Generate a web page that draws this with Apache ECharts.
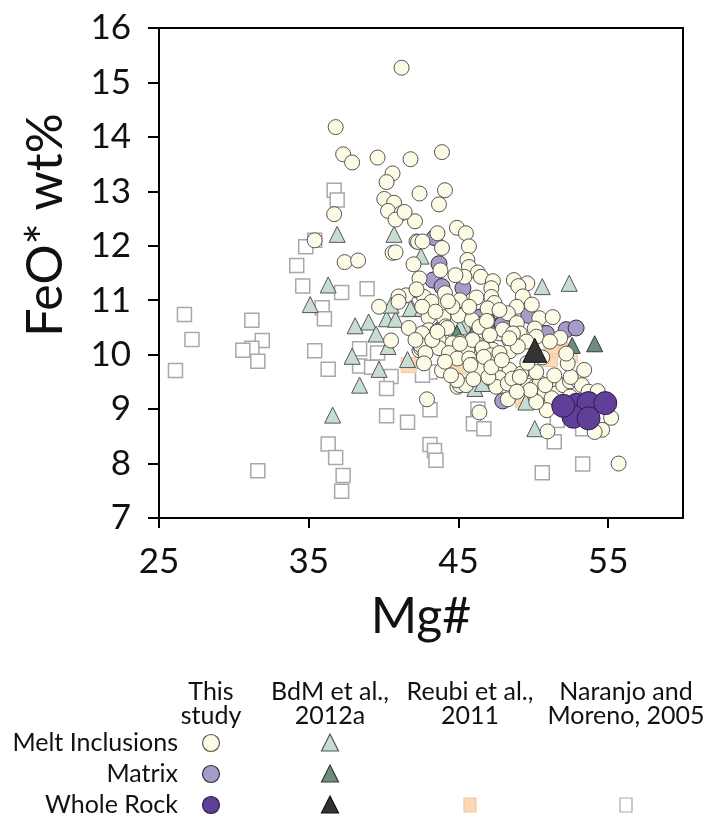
<!DOCTYPE html>
<html>
<head>
<meta charset="utf-8">
<script src="https://cdn.jsdelivr.net/npm/echarts@6/dist/echarts.min.js"></script>
<style>
  html, body { margin: 0; padding: 0; background: #fff; }
  #chart { width: 705px; height: 821px; }
</style>
</head>
<body>
<div id="chart"></div>
<script>
// Mg# vs FeO* (wt%) for Villarrica-type basaltic andesites

// This study — melt inclusions [Mg#, FeO*]
const melt = [
  [41.2,15.27],[36.8,14.18],[37.3,13.68],[37.9,13.53],[39.6,13.62],[41.8,13.59],[40.6,13.33],
  [40.2,13.17],[42.4,12.96],[40.05,12.86],[40.7,12.79],[40.3,12.64],[41.2,12.6],[40.8,12.48],
  [42.1,12.45],[36.7,12.58],[35.4,12.10],[42.2,12.08],[40.6,11.87],[40.8,11.88],[37.4,11.70],
  [38.3,11.73],[42.0,11.66],[43.9,13.72],[44.1,13.02],[43.7,12.76],[41.4,12.62],
  [43.6,12.23],[44.9,12.33],[45.5,12.23],[42.3,12.07],[42.6,12.08],[43.9,11.96],[45.7,11.99],
  [45.6,11.74],[43.8,11.55],[45.7,11.61],[46.3,11.51],[46.5,11.43],[45.4,11.43],[44.8,11.46],
  [42.4,11.40],[42.2,11.18],[44.1,11.13],[47.3,11.35],[47.2,11.22],[48.7,11.37],[49.6,11.31],
  [49.0,11.26],[49.3,11.07],[46.2,11.05],[47.2,11.06],[47.4,10.95],[45.1,11.0],[41.2,11.06],
  [42.7,11.06],[43.2,10.97],[48.9,10.88],[48.3,10.76],[43.0,10.69],[44.0,10.69],[45.0,10.72],
  [45.9,10.64],[48.9,10.58],[50.4,10.67],[51.3,10.69],[51.8,10.31],[50.1,10.48],[50.2,10.33],
  [46.4,10.51],[47.1,10.36],[48.4,10.27],[43.5,10.42],[43.0,10.45],[42.4,10.08],[44.1,10.23],
  [45.1,10.23],[46.7,10.02],[41.5,11.09],[39.7,10.88],[41.0,11.07],[41.0,10.97],[42.2,11.2],
  [40.5,10.26],[42.5,10.12],
  [42.58,10.88],[43.47,10.79],[44.6,10.88],[45.72,10.88],[46.95,10.85],[47.74,10.82],
  [44.15,10.52],[46.17,10.21],[47.74,10.39],[49.09,10.39],[49.54,10.24],[51.11,10.24],
  [42.58,10.39],[41.68,10.49],[45.6,10.09],[47.29,10.09],[48.41,10.06],
  [43.59,10.43],[44.26,10.49],[43.70,10.27],[44.60,10.21],[45.94,10.27],[46.62,10.12],
  [47.96,10.46],[48.64,10.39],[48.97,10.15],[43.70,10.12],[44.37,10.03],[44.93,9.93],
  [45.72,9.93],[45.94,9.81],[46.39,9.72],[47.18,9.99],[47.74,10.03],[47.96,9.78],[48.41,9.72],
  [48.64,9.54],[48.97,9.57],[49.87,9.69],[50.10,9.41],[50.43,9.48],[50.77,9.32],[51.11,9.44],
  [51.56,9.29],[51.22,9.20],[52.0,9.44],[52.45,9.51],[52.9,9.54],[53.24,9.44],[53.69,9.32],
  [52.45,9.23],[44.93,9.41],[47.07,9.57],[47.74,9.57],[47.52,9.41],[48.30,9.47],[42.46,10.18],
  [42.80,10.03],[43.25,10.27],[42.13,10.27],
  [42.9,9.18],[46.4,8.94],[48.3,9.18],[55.7,8.00],[55.2,8.84],[54.6,8.62],[54.1,8.58],
  [54.3,9.33],[50.95,8.59],[50.9,8.98],[50.2,9.13],[52.5,9.59],[52.3,9.84],[52.2,10.02],
  [50.8,9.44],[49.8,9.35],[49.2,9.65],[50.2,9.68],[48.6,9.56],[42.7,9.84],[43.9,9.71],
  [44.1,9.87],[45.1,9.44],[45.5,9.44],[44.9,9.53],[45.8,9.81],[46.7,9.96],[47.0,9.59],
  [47.2,9.77],[47.9,9.90],[48.4,10.30],[49.1,9.59],[43.6,10.42],[45.1,10.2],[47.1,10.36],
  [44.5,9.62],[46.0,9.55],[49.6,9.85],[50.6,9.95],[51.4,9.62],[53.4,9.72],[48.9,9.32],
  [46.9,10.62],[49.9,10.92],[44.3,10.98]
];

// This study — matrix glass
const matrix = [
  [43.4,12.15],[43.7,11.67],[43.3,11.37],[43.9,11.25],[45.3,11.22],[46.44,10.69],[47.9,10.57],
  [48.1,10.56],[49.7,10.72],[52.2,10.46],[52.86,10.49],[50.8,10.39],[47.96,9.15],[50.88,10.39],
  [43.92,10.49],[46.44,10.55],[47.92,10.55]
];

// This study — whole rock
const wholeRock = [
  [52.45,9.01],[52.9,9.08],[53.69,9.11],[54.81,9.11],[52.68,8.86],[53.69,8.83],[52.0,9.06]
];

// BdM et al., 2012a
const bdmMelt = [
  [36.9,12.21],[40.7,12.21],[36.3,11.28],[35.1,10.92],[38.1,10.53],[39.0,10.6],[39.5,10.38],
  [40.2,10.66],[40.8,10.65],[41.9,10.85],[40.5,10.91],[40.3,10.15],[37.9,9.97],[39.7,9.73],
  [41.6,9.91],[38.4,9.44],[36.6,8.89],[42.5,11.81],[41.8,10.85],[42.6,10.85],[50.6,11.25],
  [52.4,11.31],[45.4,10.54],[46.1,9.38],[46.6,9.47],[49.5,9.13],[50.1,8.64],[45.1,10.51]
];
const bdmMatrix = [
  [52.6,10.17],[54.1,10.20],[44.9,10.39],[45.9,10.36],[47.3,10.60]
];
const bdmWhole = [
  [50.1,10.08]
];

// Reubi et al., 2011 — whole rock
const reubi = [
  [42.46,10.33],[41.68,9.81],[45.05,9.78],[51.11,9.92],[51.78,10.09],[52.45,9.99],[49.31,9.17],
  [51.22,10.15]
];

// Naranjo and Moreno, 2005 — whole rock
const naranjo = [
  [36.7,13.02],[36.9,12.84],[35.4,12.10],[34.8,11.98],[34.2,11.64],[34.6,11.26],[37.2,11.14],
  [38.9,11.21],[35.9,10.86],[36.05,10.66],[26.7,10.74],[27.2,10.28],[26.1,9.71],[31.2,10.63],
  [31.9,10.26],[31.2,10.12],[30.6,10.08],[31.6,9.88],[35.4,10.07],[36.3,9.73],[38.4,10.11],
  [39.6,10.03],[38.4,9.79],[39.2,9.77],[40.5,9.60],[40.2,9.38],[40.2,8.88],[41.6,8.76],
  [36.3,8.36],[36.8,8.11],[37.3,7.78],[37.2,7.49],[31.6,7.87],[41.4,10.83],[43.1,8.99],
  [46.0,8.73],[46.7,8.64],[43.1,8.35],[43.4,8.24],[43.5,8.06],[50.6,7.83],[53.3,7.99],
  [51.4,8.40],[53.3,8.64],[51.6,8.79],[43.1,9.68],[42.6,9.62],[46.3,9.0]
];

const xTicks = [25, 35, 45, 55];
const yRange = [7, 16];
const xRange = [25, 60];

const colHeaders = [['This', 'study'], ['BdM et al.,', '2012a'], ['Reubi et al.,', '2011'], ['Naranjo and', 'Moreno, 2005']];
const rowLabels = ['Melt Inclusions', 'Matrix', 'Whole Rock'];

const FONT = 'Lato, "Open Sans", sans-serif';

const styles = {
  melt:      { fill: '#fdfbe6', stroke: '#555555' },
  matrix:    { fill: '#a69bc9', stroke: '#333333' },
  whole:     { fill: '#613f99', stroke: '#2b1b48' },
  bdmMelt:   { fill: '#c7ddd4', stroke: '#555555' },
  bdmMatrix: { fill: '#6c8c7c', stroke: '#2f3d36' },
  bdmWhole:  { fill: '#333333', stroke: '#111111' },
  reubi:     { fill: '#fdd8b5', stroke: '#f2c9a2' },
  naranjo:   { fill: '#ffffff', stroke: '#a8a8a8' }
};

function scatter(name, data, symbol, size, st, z, bw) {
  return {
    name, type: 'scatter', data, symbol, symbolSize: size, z,
    itemStyle: { color: st.fill, borderColor: st.stroke, borderWidth: bw || 1, opacity: 1 },
    emphasis: { disabled: true },
    silent: true
  };
}

// Legend drawn as a small table beneath the plot
const legendCols = [211, 330, 470, 626];
const legendRows = [743, 774, 805];
const LEG_FONT = '25px ' + FONT;
const graphics = [];
colHeaders.forEach((lines, i) => {
  lines.forEach((t, j) => {
    graphics.push({ type: 'text', x: legendCols[i], y: 692 + j * 24,
      style: { text: t, font: LEG_FONT, fill: '#111', align: 'center', verticalAlign: 'middle' } });
  });
});
rowLabels.forEach((t, i) => {
  graphics.push({ type: 'text', x: 178, y: legendRows[i],
    style: { text: t, font: LEG_FONT, fill: '#111', align: 'right', verticalAlign: 'middle' } });
});
function legCircle(cx, cy, st) {
  return { type: 'circle', shape: { cx, cy, r: 8.5 }, style: { fill: st.fill, stroke: st.stroke, lineWidth: 1.2 } };
}
function legTri(cx, cy, st) {
  return { type: 'polygon', shape: { points: [[cx, cy - 9], [cx + 8.5, cy + 8], [cx - 8.5, cy + 8]] },
    style: { fill: st.fill, stroke: st.stroke, lineWidth: 1.2 } };
}
function legSq(cx, cy, st) {
  return { type: 'rect', shape: { x: cx - 6, y: cy - 7, width: 12, height: 14 },
    style: { fill: st.fill, stroke: st.stroke, lineWidth: 1.2 } };
}
graphics.push(legCircle(legendCols[0], legendRows[0], styles.melt));
graphics.push(legCircle(legendCols[0], legendRows[1], styles.matrix));
graphics.push(legCircle(legendCols[0], legendRows[2], styles.whole));
graphics.push(legTri(legendCols[1], legendRows[0], styles.bdmMelt));
graphics.push(legTri(legendCols[1], legendRows[1], styles.bdmMatrix));
graphics.push(legTri(legendCols[1], legendRows[2], styles.bdmWhole));
graphics.push(legSq(legendCols[2], legendRows[2], styles.reubi));
graphics.push(legSq(legendCols[3], legendRows[2], styles.naranjo));

const chart = echarts.init(document.getElementById('chart'), null, { renderer: 'canvas' });
chart.setOption({
  animation: false,
  backgroundColor: '#fff',
  grid: { left: 159, top: 28, right: 22, bottom: 303, show: true, borderColor: '#000', borderWidth: 2, backgroundColor: 'transparent' },
  xAxis: {
    type: 'value', min: xRange[0], max: xRange[1], interval: 10,
    name: 'Mg#', nameLocation: 'middle', nameGap: 74,
    nameTextStyle: { fontFamily: FONT, fontSize: 50, color: '#111' },
    axisLine: { show: true, onZero: false, lineStyle: { color: '#000', width: 2 } },
    axisTick: { show: true, inside: false, length: 10, customValues: xTicks, lineStyle: { color: '#000', width: 2 } },
    axisLabel: { customValues: xTicks, margin: 26, fontFamily: FONT, fontSize: 35, color: '#111' },
    splitLine: { show: false }
  },
  yAxis: {
    type: 'value', min: yRange[0], max: yRange[1], interval: 1,
    name: 'FeO* wt%', nameLocation: 'middle', nameGap: 88, nameRotate: 90,
    nameTextStyle: { fontFamily: FONT, fontSize: 50, color: '#111', padding: [0, 0, 0, 96] },
    axisLine: { show: true, onZero: false, lineStyle: { color: '#000', width: 2 } },
    axisTick: { show: true, inside: false, length: 11, lineStyle: { color: '#000', width: 2 } },
    axisLabel: { margin: 28, fontFamily: FONT, fontSize: 35, color: '#111' },
    splitLine: { show: false }
  },
  series: [
    scatter('Naranjo and Moreno, 2005', naranjo, 'rect', 14, styles.naranjo, 2, 1.5),
    scatter('Reubi et al., 2011', reubi, 'rect', 15, styles.reubi, 3),
    scatter('BdM melt inclusions', bdmMelt, 'triangle', 16, styles.bdmMelt, 4),
    scatter('BdM matrix', bdmMatrix, 'triangle', 16, styles.bdmMatrix, 5),
    scatter('Matrix', matrix, 'circle', 16, styles.matrix, 6),
    scatter('Melt Inclusions', melt, 'circle', 15, styles.melt, 7),
    scatter('Whole Rock', wholeRock, 'circle', 23, styles.whole, 8),
    scatter('BdM whole rock', bdmWhole, 'triangle', 24, styles.bdmWhole, 9)
  ],
  graphic: graphics
});
</script>
</body>
</html>
